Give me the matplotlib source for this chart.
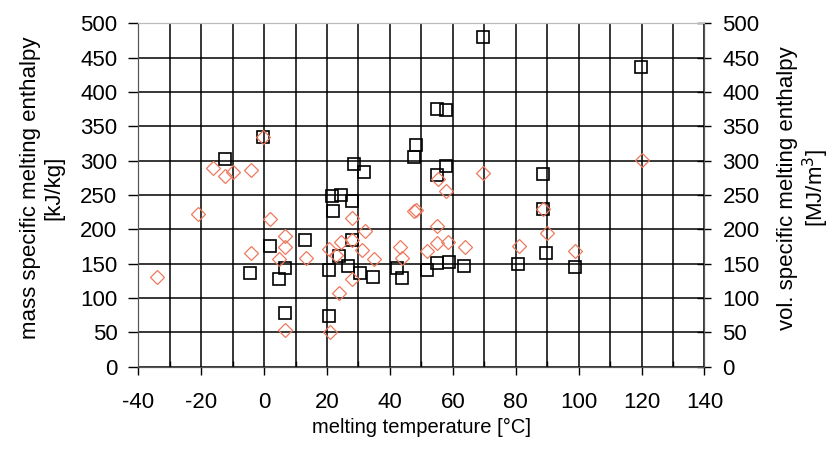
import numpy as np
import matplotlib.pyplot as plt

plt.rcParams['font.family'] = ['Liberation Sans', 'DejaVu Sans']
plt.rcParams['axes.unicode_minus'] = False

# mass specific melting enthalpy (squares) - melting temperature [C], enthalpy [kJ/kg]
mass_temp = [-12.3, -0.3, -4.5, 1.8, 4.7, 6.8, 6.8, 12.9, 20.6, 20.7,
             21.7, 24.4, 27.8, 21.9, 27.8, 23.8, 26.7, 30.4, 34.7, 28.5,
             31.8, 42.4, 43.7, 48.2, 47.7, 51.7, 54.9, 54.9, 57.8, 57.7,
             54.9, 58.8, 63.6, 69.7, 80.8, 88.6, 88.8, 89.5, 98.9, 119.9]
mass_h = [302, 335, 136, 176, 128, 143, 78, 184, 141, 74,
          248, 250, 241, 227, 184, 161, 147, 137, 130, 295,
          283, 144, 129, 323, 305, 141, 151, 375, 374, 292,
          279, 153, 147, 480, 149, 281, 230, 166, 145, 436]

# volume specific melting enthalpy (diamonds) - [MJ/m3]
vol_temp = [-34, -21, -16.2, -12.3, -9.9, -4.2, -0.3, -4.2, 1.8, 4.9,
            6.8, 6.8, 6.8, 13.2, 20.6, 20.9, 23, 24.6, 27.8, 27.8,
            32, 31, 35, 27.8, 23.8, 43.2, 43.9, 48.2, 47.8, 51.9,
            54.9, 54.9, 55.2, 57.7, 58.5, 63.9, 69.7, 81, 88.8, 89.8,
            98.9, 120]
vol_h = [131, 222, 290, 277, 284, 286, 335, 165, 215, 157,
         190, 174, 54, 158, 172, 51, 163, 182, 184, 216,
         197, 170, 157, 127, 108, 174, 158, 228, 226, 169,
         180, 205, 273, 256, 181, 174, 282, 176, 230, 194,
         168, 301]

fig = plt.figure(figsize=(8.35, 4.57), dpi=100)
ax = fig.add_axes([0.1656, 0.1976, 0.678, 0.7514])

ax.set_xlim(-40, 140)
ax.set_ylim(0, 500)
ax.set_xticks(np.arange(-40, 141, 20))
ax.set_xticks(np.arange(-30, 140, 20), minor=True)
ax.set_yticks(np.arange(0, 501, 50))
ax.grid(True, which='both', color='black', linewidth=1.1)
ax.set_axisbelow(True)

ax.plot(mass_temp, mass_h, linestyle='none', marker='s', markersize=9,
        markerfacecolor='none', markeredgecolor='black', markeredgewidth=1.2, zorder=3)

ax2 = ax.twinx()
ax2.set_ylim(0, 500)
ax2.set_yticks(np.arange(0, 501, 50))
ax2.plot(vol_temp, vol_h, linestyle='none', marker='D', markersize=7,
         markerfacecolor='none', markeredgecolor='#ec7a60', markeredgewidth=0.9, zorder=3)

for a in (ax, ax2):
    for s in a.spines.values():
        s.set_color('#555555')
    a.spines['top'].set_color('#bbbbbb')

ax.tick_params(axis='y', labelsize=16, color='black', length=7, width=1, pad=8)
ax.tick_params(axis='x', which='major', labelsize=16, color='black', length=6, width=1, pad=12)
ax.tick_params(axis='x', which='minor', direction='in', length=4, width=1)
ax2.tick_params(axis='y', labelsize=16, direction='inout', length=10, width=1, pad=8)

ax.set_xlabel('melting temperature [°C]', fontsize=14.5)
ax.set_ylabel('mass specific melting enthalpy\n[kJ/kg]', fontsize=16, linespacing=1.15)
ax2.set_ylabel('vol. specific melting enthalpy\n[MJ/m$^3$]', fontsize=16, linespacing=1.15)
ax.xaxis.set_label_coords(0.5, -0.149)
ax.yaxis.set_label_coords(-0.13, 0.52)
ax2.yaxis.set_label_coords(1.128, 0.52)

fig.savefig('out.png', dpi=100)
